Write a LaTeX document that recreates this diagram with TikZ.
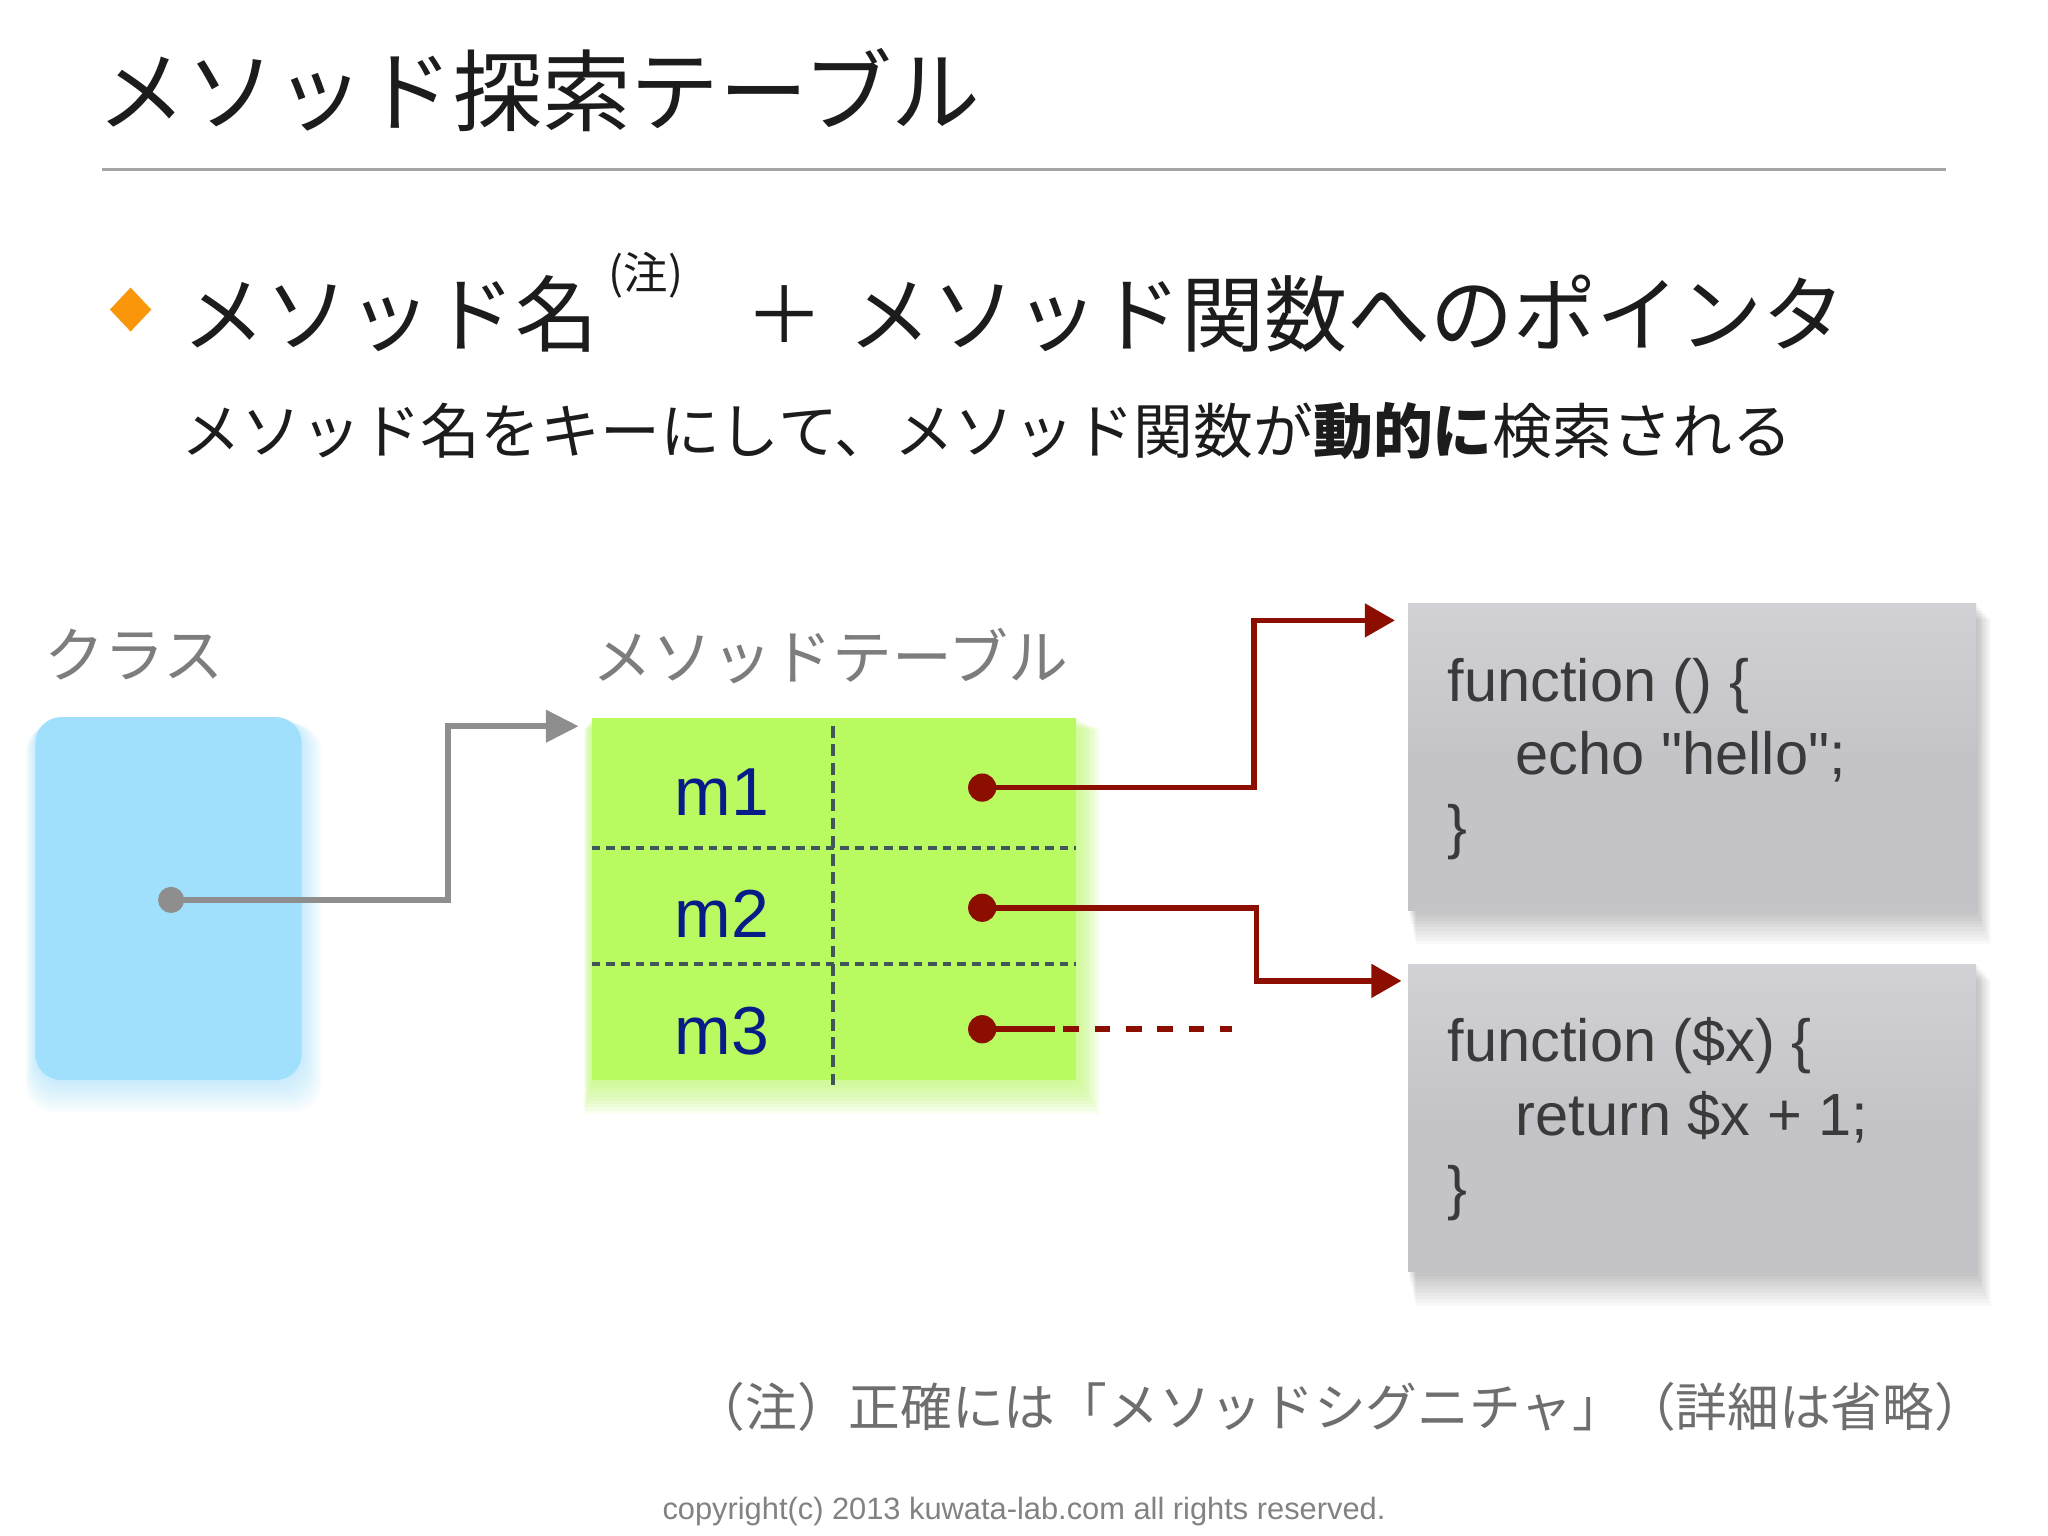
\documentclass[tikz,border=0pt]{standalone}
\usepackage{fontspec}
\setmainfont{Liberation Sans}
\newfontfamily\codefont{Liberation Sans}
\newfontfamily\jp{Noto Sans CJK JP}
\usetikzlibrary{arrows.meta,shapes.geometric}
\definecolor{inkblack}{RGB}{28,28,28}
\definecolor{rulegray}{RGB}{165,165,165}
\definecolor{bulletorange}{RGB}{250,150,10}
\definecolor{labelgray}{RGB}{125,125,125}
\definecolor{footgray}{RGB}{110,110,110}
\definecolor{copygray}{RGB}{130,130,130}
\definecolor{clsblue}{RGB}{160,224,252}
\definecolor{tblgreen}{RGB}{184,250,96}
\definecolor{gridcol}{RGB}{64,86,90}
\definecolor{lingray}{RGB}{142,142,142}
\definecolor{redc}{RGB}{139,14,0}
\definecolor{boxgray}{RGB}{196,195,199}
\definecolor{boxtop}{RGB}{210,209,213}
\definecolor{codegray}{RGB}{58,58,58}
\definecolor{mblue}{RGB}{8,28,135}
\tikzset{
  jptext/.style={inner sep=0pt, outer sep=0pt, anchor=west, font=\jp},
  codetext/.style={inner sep=0pt, anchor=base west, text=codegray, font=\codefont\fontsize{22.8}{26}\selectfont},
  mlabel/.style={inner sep=0pt, anchor=base west, text=mblue, font=\fontsize{26}{30}\selectfont},
  codebox/.style={inner sep=0pt, minimum width=217.5pt, minimum height=117.5pt, top color=boxtop, bottom color=boxgray, middle color=boxgray, draw=none},
  reddot/.style={circle, fill=redc, inner sep=0pt, minimum size=10.8pt},
  graydot/.style={circle, fill=lingray, inner sep=0pt, minimum size=10pt},
  redline/.style={draw=redc, line width=2.2pt},
  grayline/.style={draw=lingray, line width=2.3pt},
  gridline/.style={draw=gridcol, line width=1.4pt, dash pattern=on 3.3pt off 2.3pt},
}
\begin{document}
\begin{tikzpicture}[x=0.5pt,y=-0.5pt]
\useasboundingbox (0,0) rectangle (1568,1176);
\fill[white] (0,0) rectangle (1568,1176);

% title
\node[jptext, text=inkblack, font=\jp\fontsize{34}{40}\selectfont] (title) at (75,69) {メソッド探索テーブル};
\coordinate (ruleL) at (78,130);
\coordinate (ruleR) at (1490,130);
\draw[rulegray, line width=1pt] (ruleL) -- (ruleR);

% bullet line
\node[diamond, fill=bulletorange, inner sep=0pt, minimum width=16pt, minimum height=17pt] (bullet) at (100,237) {};
\node[jptext, text=inkblack, font=\jp\fontsize{31.8}{36}\selectfont] (kname) at (140,240) {メソッド名};
\node[jptext, text=inkblack, font=\jp\fontsize{17}{19}\selectfont] (note) at (466,211) {(注)};
\node[inner sep=0pt, text=inkblack, font=\jp\fontsize{30}{34}\selectfont] (plus) at (601,241) {＋};
\node[jptext, text=inkblack, font=\jp\fontsize{31.8}{36}\selectfont] (kptr) at (650,240) {メソッド関数へのポインタ};
\node[jptext, text=inkblack, font=\jp\fontsize{22.9}{26}\selectfont] (sub) at (139,330) {メソッド名をキーにして、メソッド関数が{\bfseries 動的に}検索される};

% labels
\node[jptext, text=labelgray, font=\jp\fontsize{23}{26}\selectfont] (clslabel) at (34,501) {クラス};
\node[jptext, text=labelgray, font=\jp\fontsize{22.9}{26}\selectfont] (tbllabel) at (454,502) {メソッドテーブル};

% class box with glow
\foreach \i in {1,...,9} {
  \fill[clsblue, opacity=0.07, rounded corners=11pt] (27-\i*0.8, 549+\i*0.6) rectangle (231+\i*1.7, 827+\i*2.7);
}
\node[fill=clsblue, rounded corners=10pt, inner sep=0pt, minimum width=102pt, minimum height=139pt] (cls) at (129,688) {};

% table with glow
\foreach \i in {1,...,10} {
  \fill[tblgreen, opacity=0.09] (453-\i*0.6, 550+\i*0.8) rectangle (824+\i*1.8, 827+\i*2.6);
}
\node[fill=tblgreen, inner sep=0pt, minimum width=185.5pt, minimum height=138.5pt] (tbl) at (638.5,688.5) {};
\coordinate (hl1L) at (453,649); \coordinate (hl1R) at (824,649);
\coordinate (hl2L) at (453,738); \coordinate (hl2R) at (824,738);
\coordinate (vlT) at (638,556); \coordinate (vlB) at (638,833);
\draw[gridline] (hl1L) -- (hl1R);
\draw[gridline] (hl2L) -- (hl2R);
\draw[gridline, dash pattern=on 4.5pt off 2.5pt] (vlT) -- (vlB);
\node[mlabel] (m1) at (516,624.5) {m1};
\node[mlabel] (m2) at (516,717.5) {m2};
\node[mlabel] (m3) at (516,807) {m3};

% code boxes with shadows
\foreach \i in {1,...,10} {
  \fill[black, opacity=0.022] (1078+\i*0.6, 462+\i*1.2) rectangle (1513+\i*1.1, 697+\i*2.6);
  \fill[black, opacity=0.022] (1078+\i*0.6, 738+\i*1.2) rectangle (1513+\i*1.1, 974+\i*2.6);
}
\node[codebox] (f1) at (1295.5,579.5) {};
\node[codebox] (f2) at (1295.5,856) {};
\node[codetext] (c11) at (1108,537) {function () \{};
\node[codetext] (c12) at (1160,593) {echo "hello";};
\node[codetext] (c13) at (1108,649) {\}};
\node[codetext] (c21) at (1108,813) {function (\$x) \{};
\node[codetext] (c22) at (1160,869) {return \$x + 1;};
\node[codetext] (c23) at (1108,925) {\}};

% connectors
\coordinate (p0) at (131,689);
\coordinate (p1) at (752,603);
\coordinate (p2) at (752,695);
\coordinate (p3) at (752,788);
\coordinate (tin) at (443,556);
\coordinate (f1in) at (1068,475);
\coordinate (f2in) at (1073,751);
\coordinate (m3mid) at (808,788);
\coordinate (m3dash) at (814,788);
\coordinate (m3end) at (943,788);

\draw[grayline, -{Triangle[length=12.5pt,width=12pt]}] (p0) -- ++(212,0) |- (tin);
\draw[redline, -{Triangle[length=11.5pt,width=12.5pt]}] (p1) -- ++(208,0) |- (f1in);
\draw[redline, -{Triangle[length=11.5pt,width=12.5pt]}] (p2) -- ++(210,0) |- (f2in);
\draw[redline] (p3) -- (m3mid);
\draw[redline, dash pattern=on 6pt off 6pt] (m3dash) -- (m3end);

\node[graydot] (d0) at (p0) {};
\node[reddot] (d1) at (p1) {};
\node[reddot] (d2) at (p2) {};
\node[reddot] (d3) at (p3) {};

% footnote and copyright
\node[jptext, text=footgray, font=\jp\fontsize{19.8}{24}\selectfont] (foot) at (531,1077) {（注）正確には「メソッドシグニチャ」（詳細は省略）};
\node[inner sep=0pt, text=copygray, font=\fontsize{11.8}{14}\selectfont] (copy) at (784,1157) {copyright(c) 2013 kuwata-lab.com all rights reserved.};
\end{tikzpicture}
\end{document}
